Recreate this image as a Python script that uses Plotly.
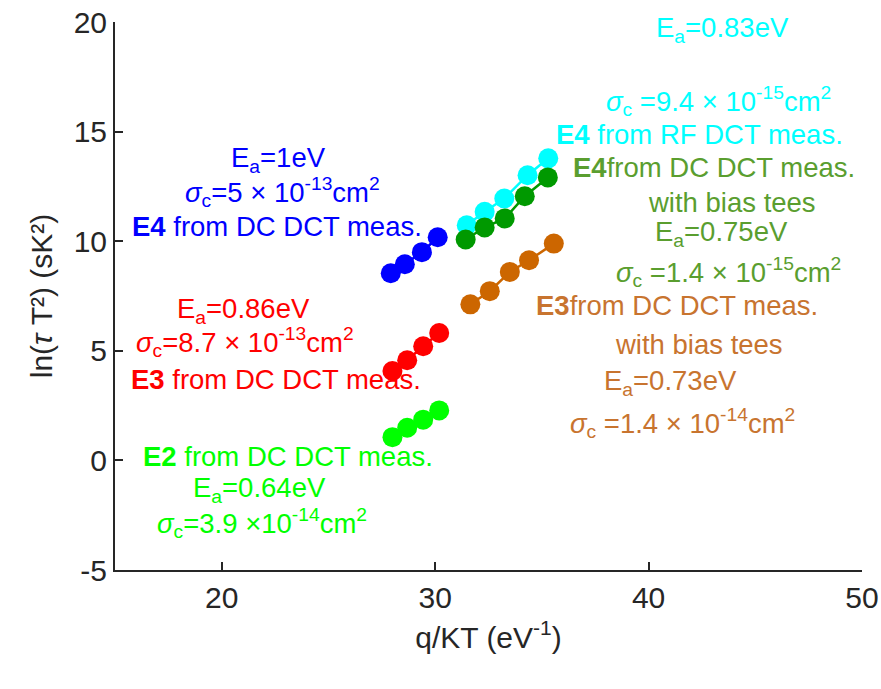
import plotly.graph_objects as go

# ---- data ----
x_e4_dc = [27.92, 28.58, 29.38, 30.12]
y_e4_dc = [8.54, 8.95, 9.50, 10.18]
x_e3_dc = [28.00, 28.69, 29.44, 30.19]
y_e3_dc = [4.08, 4.57, 5.21, 5.81]
x_e2_dc = [28.00, 28.69, 29.44, 30.19]
y_e2_dc = [1.06, 1.49, 1.86, 2.28]
x_e4_rf = [31.48, 32.32, 33.24, 34.33, 35.30]
y_e4_rf = [10.73, 11.34, 11.95, 13.01, 13.78]
x_e4_bt = [31.43, 32.32, 33.26, 34.20, 35.28]
y_e4_bt = [10.08, 10.63, 11.04, 12.05, 12.91]
x_e3_bt = [31.65, 32.56, 33.50, 34.40, 35.56]
y_e3_bt = [7.12, 7.72, 8.60, 9.13, 9.89]

x_ticks = [20, 30, 40, 50]
y_ticks = [-5, 0, 5, 10, 15, 20]
y_tick_labels = ["-5", "0", "5", "10", "15", "20"]

FONT = "Liberation Sans, Arial, sans-serif"
AX = "#262626"

series = [
    (x_e4_dc, y_e4_dc, "#0000FF"),
    (x_e3_dc, y_e3_dc, "#FF0000"),
    (x_e2_dc, y_e2_dc, "#00FF00"),
    (x_e4_rf, y_e4_rf, "#00FFFF"),
    (x_e4_bt, y_e4_bt, "#009900"),
    (x_e3_bt, y_e3_bt, "#CC6600"),
]

fig = go.Figure()
for xs, ys, c in series:
    fig.add_trace(go.Scatter(x=xs, y=ys, mode="lines+markers",
                             line=dict(color=c, width=2.5),
                             marker=dict(color=c, size=20),
                             showlegend=False))

W, H = 881, 689
L, T = 115, 22
pw, ph = 747, 548
R = W - L - pw
B = H - T - ph


def px(x, y):
    return (x - L) / pw, (H - B - y) / ph


BLUE, RED, GREEN = "#0000FF", "#FF0000", "#00FF00"
CYAN, DGREEN_T, ORANGE_T = "#00FFFF", "#5A9E2F", "#C8742F"

sig = "<i>σ</i><sub>c</sub>"
notes = [
    (278, 160, "E<sub>a</sub>=1eV", BLUE),
    (282, 192, sig + "=5 × 10<sup>-13</sup>cm<sup>2</sup>", BLUE),
    (277, 227, "<b>E4</b> from DC DCT meas.", BLUE),
    (243, 310, "E<sub>a</sub>=0.86eV", RED),
    (245, 342, sig + "=8.7 × 10<sup>-13</sup>cm<sup>2</sup>", RED),
    (276, 380, "<b>E3</b> from DC DCT meas.", RED),
    (288, 456, "<b>E2</b> from DC DCT meas.", GREEN),
    (259, 489, "E<sub>a</sub>=0.64eV", GREEN),
    (262, 523, sig + "=3.9 ×10<sup>-14</sup>cm<sup>2</sup>", GREEN),
    (722, 29, "E<sub>a</sub>=0.83eV", CYAN),
    (718, 101, sig + " =9.4 × 10<sup>-15</sup>cm<sup>2</sup>", CYAN),
    (699, 134, "<b>E4</b> from RF DCT meas.", CYAN),
    (714, 168, "<b>E4</b>from DC DCT meas.", DGREEN_T),
    (732, 202, "with bias tees", DGREEN_T),
    (721, 234, "E<sub>a</sub>=0.75eV", DGREEN_T),
    (728, 272, sig + " =1.4 × 10<sup>-15</sup>cm<sup>2</sup>", DGREEN_T),
    (677, 305, "<b>E3</b>from DC DCT meas.", ORANGE_T),
    (699, 344, "with bias tees", ORANGE_T),
    (670, 383, "E<sub>a</sub>=0.73eV", ORANGE_T),
    (682, 423, sig + " =1.4 × 10<sup>-14</sup>cm<sup>2</sup>", ORANGE_T),
]
for x, y, t, c in notes:
    xp, yp = px(x, y)
    fig.add_annotation(x=xp, y=yp, xref="paper", yref="paper", text=t,
                       showarrow=False, xanchor="center", yanchor="middle",
                       font=dict(family=FONT, size=27.5, color=c))

axis_common = dict(ticks="inside", ticklen=8, tickwidth=2, tickcolor=AX,
                   showline=True, linecolor=AX, linewidth=2, showgrid=False,
                   zeroline=False, ticklabeloverflow="allow",
                   tickfont=dict(size=30, color=AX, family=FONT))

fig.update_layout(
    width=W, height=H,
    margin=dict(l=L, r=R, t=T, b=B, autoexpand=False),
    paper_bgcolor="white", plot_bgcolor="white",
    font=dict(family=FONT, color=AX),
    xaxis=dict(range=[15, 50], tickvals=x_ticks, **axis_common,
               title=dict(text="q/KT (eV<sup>-1</sup>)",
                          font=dict(size=30, color=AX, family=FONT),
                          standoff=14)),
    yaxis=dict(range=[-5, 20], tickvals=y_ticks, ticktext=y_tick_labels,
               **axis_common,
               title=dict(text="ln(<i>τ</i> T²) (sK²)",
                          font=dict(size=30, color=AX, family=FONT),
                          standoff=12)),
)

fig.write_html("out.html",
               config={"displayModeBar": False},
               post_script="document.body.style.margin='0';"
                           "document.body.style.overflow='hidden';")
